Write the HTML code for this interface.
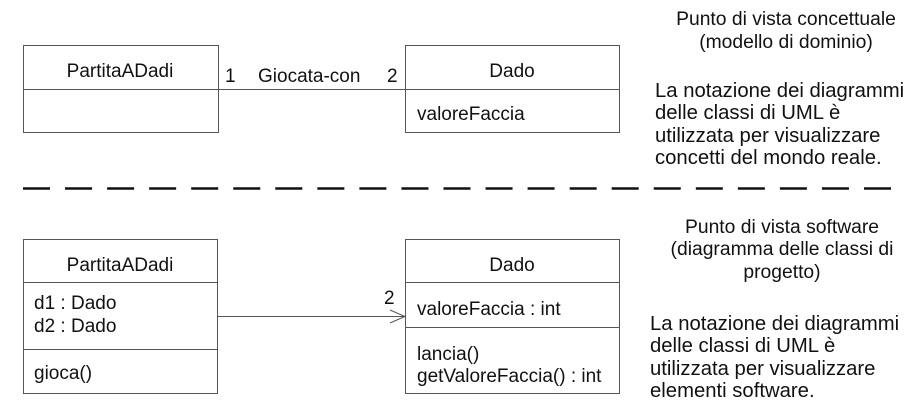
<!DOCTYPE html>
<html><head><meta charset="utf-8"><style>
html,body{margin:0;padding:0;background:#fff;width:916px;height:416px;overflow:hidden}
svg text{font-family:"Liberation Sans",Arial,sans-serif;fill:#111}
</style></head><body>
<svg width="916" height="416" viewBox="0 0 916 416" xmlns="http://www.w3.org/2000/svg">
<g fill="none" stroke="#555" stroke-width="1">
<rect x="23.5" y="45.5" width="195" height="87"/>
<line x1="23" y1="89.5" x2="218" y2="89.5"/>
<rect x="405.5" y="45.5" width="214" height="87"/>
<line x1="405" y1="89.5" x2="619" y2="89.5"/>
<line x1="218" y1="89.5" x2="405" y2="89.5"/>
<rect x="23.5" y="239.5" width="194" height="154"/>
<line x1="23" y1="282.5" x2="217" y2="282.5"/>
<line x1="23" y1="349.5" x2="217" y2="349.5"/>
<rect x="405.5" y="239.5" width="214" height="154"/>
<line x1="405" y1="282.5" x2="619" y2="282.5"/>
<line x1="405" y1="327.5" x2="619" y2="327.5"/>
<line x1="217" y1="316.5" x2="405" y2="316.5"/>
<polyline points="390,310 405,316.5 390,323"/>
</g>
<line x1="23" y1="188.5" x2="892" y2="188.5" stroke="#111" stroke-width="2.5" stroke-dasharray="27 15.05"/>
<g font-size="19">
<text x="120" y="77" text-anchor="middle">PartitaADadi</text>
<text x="512" y="77" text-anchor="middle">Dado</text>
<text x="417" y="120">valoreFaccia</text>
<text x="120" y="271" text-anchor="middle">PartitaADadi</text>
<text x="34" y="309">d1 : Dado</text>
<text x="34" y="332">d2 : Dado</text>
<text x="34" y="379">gioca()</text>
<text x="512" y="271" text-anchor="middle">Dado</text>
<text x="384" y="304">2</text>
<text x="417" y="315">valoreFaccia : int</text>
<text x="417" y="360">lancia()</text>
<text x="417" y="382">getValoreFaccia() : int</text>
<text x="225" y="82">1</text>
<text x="258" y="82">Giocata-con</text>
<text x="387" y="82">2</text>
</g>
<g font-size="19.3" text-anchor="middle">
<text x="786" y="25">Punto di vista concettuale</text>
<text x="786" y="48">(modello di dominio)</text>
<text x="782" y="233">Punto di vista software</text>
<text x="782" y="255">(diagramma delle classi di</text>
<text x="782" y="278">progetto)</text>
</g>
<g font-size="20.3">
<text x="655" y="97">La notazione dei diagrammi</text>
<text x="655" y="119">delle classi di UML è</text>
<text x="655" y="142">utilizzata per visualizzare</text>
<text x="655" y="164">concetti del mondo reale.</text>
<text x="650" y="330">La notazione dei diagrammi</text>
<text x="650" y="352">delle classi di UML è</text>
<text x="650" y="375">utilizzata per visualizzare</text>
<text x="650" y="397">elementi software.</text>
</g>
</svg>
</body></html>
